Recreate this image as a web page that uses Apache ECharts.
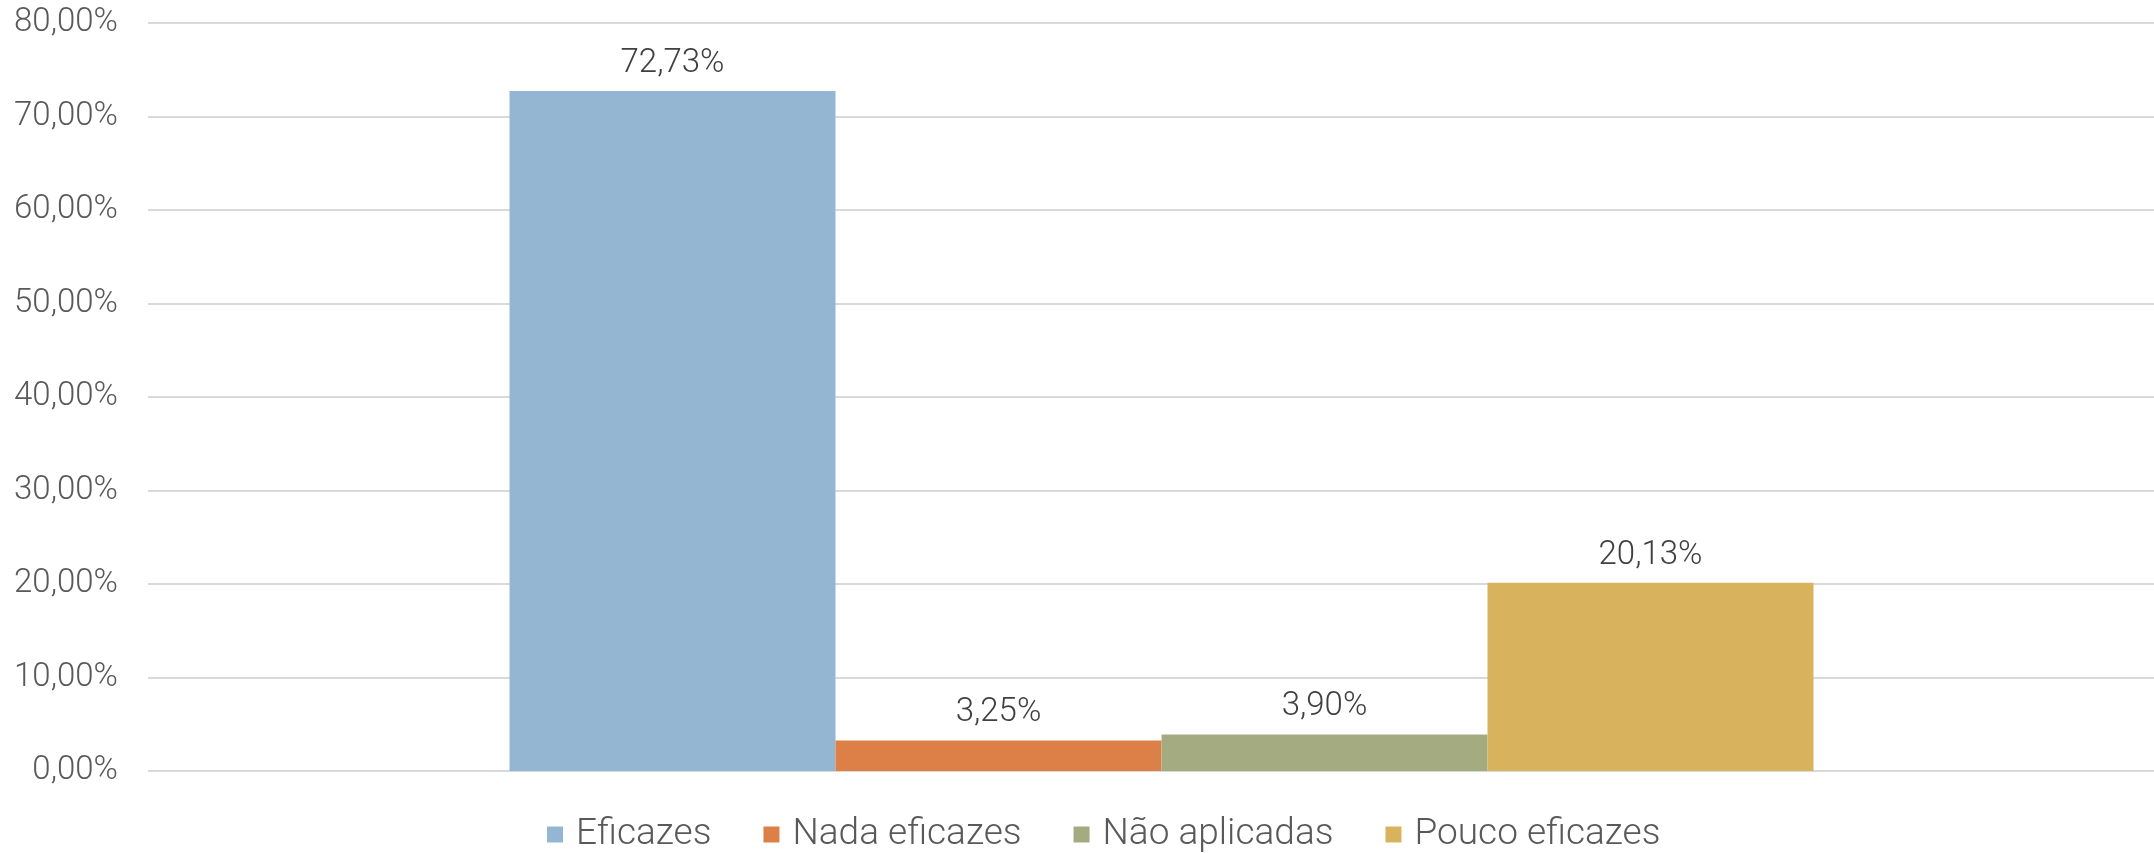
<!DOCTYPE html>
<html>
<head>
<meta charset="utf-8">
<script src="https://cdn.jsdelivr.net/npm/echarts@6/dist/echarts.min.js"></script>
<style>
  html, body { margin: 0; padding: 0; background: #fff; }
  #chart { width: 2154px; height: 853px; }
</style>
</head>
<body>
<div id="chart"></div>
<script>
// dados do gráfico
var categorias = [''];
var seriesNomes = ['Eficazes', 'Nada eficazes', 'Não aplicadas', 'Pouco eficazes'];
var seriesValores = [72.73, 3.25, 3.90, 20.13];
var cores = ['#95b6d3', '#dd8047', '#a5ab81', '#d8b25c'];
var yMax = 80;
var yIntervalo = 10;

function fmtPct(v) {
    return v.toFixed(2).replace('.', ',') + '%';
}

var fonte = 'Roboto';
var corTexto = '#595959';

var series = seriesNomes.map(function (nome, i) {
    return {
        name: nome,
        type: 'bar',
        barGap: '0%',
        barWidth: 326,
        itemStyle: { color: cores[i] },
        label: {
            show: true,
            position: 'top',
            distance: 11,
            fontFamily: fonte,
            fontWeight: 300,
            fontSize: 33,
            color: '#404040',
            formatter: function (p) { return fmtPct(p.value); }
        },
        data: [seriesValores[i]]
    };
});

var option = {
    animation: false,
    backgroundColor: '#fff',
    grid: {
        top: 23,
        bottom: 82,
        left: 148,
        right: -21,
        outerBoundsMode: 'none',
        containLabel: false
    },
    legend: {
        data: seriesNomes,
        left: 547,
        top: 816,
        padding: 0,
        icon: 'rect',
        itemWidth: 16,
        itemHeight: 16,
        itemGap: 52,
        textStyle: {
            fontFamily: fonte,
            fontWeight: 300,
            fontSize: 37,
            color: corTexto,
            padding: [0, 0, 0, 8]
        }
    },
    xAxis: {
        type: 'category',
        data: categorias,
        axisLine: { show: false },
        axisTick: { show: false },
        axisLabel: { show: false }
    },
    yAxis: {
        type: 'value',
        min: 0,
        max: yMax,
        interval: yIntervalo,
        axisLine: { show: false },
        axisTick: { show: false },
        axisLabel: {
            margin: 30,
            fontFamily: fonte,
            fontWeight: 300,
            fontSize: 33,
            color: corTexto,
            formatter: function (v) { return fmtPct(v); }
        },
        splitLine: {
            lineStyle: { color: '#d9d9d9', width: 2 }
        }
    },
    series: series
};

var chart = echarts.init(document.getElementById('chart'));
chart.setOption(option);
</script>
</body>
</html>
